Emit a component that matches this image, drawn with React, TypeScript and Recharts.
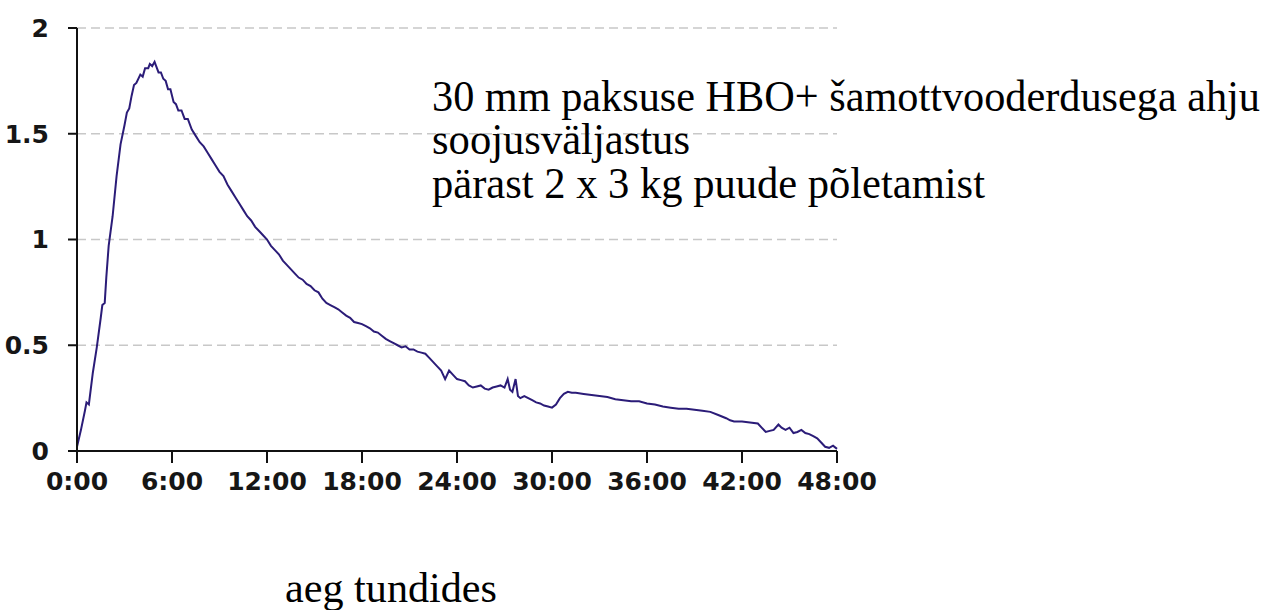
import { CartesianGrid, Line, LineChart, XAxis, YAxis } from 'recharts';

// hours since start of firing
const HOURS = [
  0, 0.25, 0.5, 0.6, 0.75, 1, 1.25, 1.5, 1.6, 1.75, 1.85, 2, 2.25, 2.5, 2.75, 3, 3.15, 3.3, 3.45,
  3.6, 3.75, 4, 4.15, 4.3, 4.5, 4.6, 4.75, 4.9, 5, 5.15, 5.3, 5.45, 5.6, 5.75, 5.9, 6.1, 6.25, 6.4,
  6.6, 6.8, 7, 7.25, 7.5, 7.75, 8, 8.25, 8.5, 8.75, 9, 9.25, 9.5, 9.75, 10, 10.25, 10.5, 10.75, 11,
  11.25, 11.5, 11.75, 12, 12.25, 12.5, 12.75, 13, 13.25, 13.5, 13.75, 14, 14.25, 14.5, 14.75, 15,
  15.25, 15.5, 15.75, 16, 16.25, 16.5, 16.75, 17, 17.25, 17.5, 17.75, 18, 18.25, 18.5, 18.75, 19,
  19.25, 19.5, 19.75, 20, 20.25, 20.5, 20.75, 21, 21.25, 21.5, 21.75, 22, 22.25, 22.5, 22.75, 23,
  23.25, 23.5, 23.75, 24, 24.25, 24.5, 24.75, 25, 25.25, 25.5, 25.75, 26, 26.25, 26.5, 26.75, 27,
  27.2, 27.35, 27.5, 27.7, 27.85, 28, 28.25, 28.5, 28.75, 29, 29.25, 29.5, 29.75, 30, 30.25, 30.5,
  30.75, 31, 31.25, 31.5, 32, 32.5, 33, 33.5, 34, 34.5, 35, 35.5, 36, 36.5, 37, 37.5, 38, 38.5, 39,
  39.5, 40, 40.5, 41, 41.25, 41.5, 42, 42.5, 43, 43.5, 43.75, 44, 44.3, 44.5, 44.75, 45, 45.25, 45.5,
  45.75, 46, 46.25, 46.5, 46.75, 47, 47.25, 47.5, 47.75, 48,
];

// heat output
const OUTPUT = [
  0.02, 0.1, 0.19, 0.23, 0.22, 0.37, 0.49, 0.63, 0.69, 0.7, 0.82, 0.97, 1.11, 1.3, 1.45, 1.54, 1.6,
  1.62, 1.68, 1.73, 1.74, 1.78, 1.77, 1.81, 1.81, 1.83, 1.82, 1.84, 1.82, 1.79, 1.79, 1.76, 1.75,
  1.71, 1.71, 1.65, 1.64, 1.61, 1.61, 1.57, 1.57, 1.52, 1.49, 1.46, 1.44, 1.41, 1.38, 1.35, 1.32,
  1.3, 1.26, 1.23, 1.2, 1.17, 1.14, 1.11, 1.09, 1.06, 1.04, 1.02, 1.0, 0.97, 0.95, 0.93, 0.9, 0.88,
  0.86, 0.84, 0.82, 0.81, 0.79, 0.78, 0.76, 0.75, 0.72, 0.7, 0.69, 0.68, 0.67, 0.655, 0.64, 0.63,
  0.61, 0.605, 0.6, 0.59, 0.58, 0.565, 0.56, 0.545, 0.53, 0.52, 0.51, 0.5, 0.49, 0.495, 0.48, 0.48,
  0.47, 0.465, 0.46, 0.44, 0.42, 0.4, 0.38, 0.34, 0.38, 0.36, 0.34, 0.335, 0.33, 0.31, 0.3, 0.305,
  0.31, 0.295, 0.29, 0.3, 0.305, 0.31, 0.3, 0.34, 0.29, 0.28, 0.34, 0.26, 0.25, 0.26, 0.25, 0.24,
  0.23, 0.225, 0.215, 0.21, 0.205, 0.22, 0.25, 0.27, 0.28, 0.275, 0.275, 0.27, 0.265, 0.26, 0.255,
  0.245, 0.24, 0.235, 0.235, 0.225, 0.22, 0.21, 0.205, 0.2, 0.2, 0.195, 0.19, 0.185, 0.17, 0.155,
  0.145, 0.14, 0.14, 0.135, 0.13, 0.09, 0.095, 0.1, 0.125, 0.11, 0.1, 0.11, 0.085, 0.09, 0.1, 0.085,
  0.08, 0.07, 0.06, 0.04, 0.02, 0.015, 0.025, 0.01,
];

const X_TICKS = [0, 6, 12, 18, 24, 30, 36, 42, 48];
const Y_TICKS = [0, 0.5, 1, 1.5, 2];

const TITLE_LINES = [
  '30 mm paksuse HBO+ šamottvooderdusega ahju',
  'soojusväljastus',
  'pärast 2 x 3 kg puude põletamist',
];
const X_TITLE = 'aeg tundides';

const data = HOURS.map((h, i) => ({ h, v: OUTPUT[i] }));

const tickFont = {
  fontSize: 25,
  fontWeight: 700,
  fontFamily: '"DejaVu Sans", Verdana, sans-serif',
  fill: '#161616',
};

const serif = '"Liberation Serif", "Times New Roman", serif';

export default function App() {
  return (
    <div style={{ position: 'absolute', left: 0, top: 0, width: 1275, height: 610, background: '#fff' }}>
      <LineChart
        width={1275}
        height={610}
        data={data}
        margin={{ top: 28, right: 438, bottom: 129, left: 0 }}
      >
        <CartesianGrid
          horizontal
          vertical={false}
          stroke="#c8c8c8"
          strokeWidth={1.5}
          strokeDasharray="9 5"
        />
        <XAxis
          dataKey="h"
          type="number"
          domain={[0, 48]}
          ticks={X_TICKS}
          tickFormatter={(v) => `${v}:00`}
          height={30}
          tickSize={12}
          tickMargin={9}
          tick={tickFont}
          stroke="#111"
          strokeWidth={2}
          tickLine={{ stroke: '#111', strokeWidth: 2 }}
        />
        <YAxis
          type="number"
          domain={[0, 2]}
          ticks={Y_TICKS}
          width={77}
          tickSize={9}
          tickMargin={19}
          tick={tickFont}
          stroke="#111"
          strokeWidth={2}
          tickLine={{ stroke: '#111', strokeWidth: 2 }}
        />
        <Line
          type="linear"
          dataKey="v"
          stroke="#2b1c78"
          strokeWidth={2}
          dot={false}
          isAnimationActive={false}
        />
      </LineChart>
      <svg
        width={1275}
        height={610}
        style={{ position: 'absolute', left: 0, top: 0, pointerEvents: 'none' }}
      >
        <text x={432} y={111} fontFamily={serif} fontSize={45} fill="#000" textLength={828} lengthAdjust="spacingAndGlyphs">
          {TITLE_LINES[0]}
        </text>
        <text x={432} y={154} fontFamily={serif} fontSize={45} fill="#000" textLength={258} lengthAdjust="spacingAndGlyphs">
          {TITLE_LINES[1]}
        </text>
        <text x={432} y={198} fontFamily={serif} fontSize={45} fill="#000" textLength={553} lengthAdjust="spacingAndGlyphs">
          {TITLE_LINES[2]}
        </text>
        <text x={285} y={602} fontFamily={serif} fontSize={43} fill="#000" textLength={212} lengthAdjust="spacingAndGlyphs">
          {X_TITLE}
        </text>
      </svg>
    </div>
  );
}
